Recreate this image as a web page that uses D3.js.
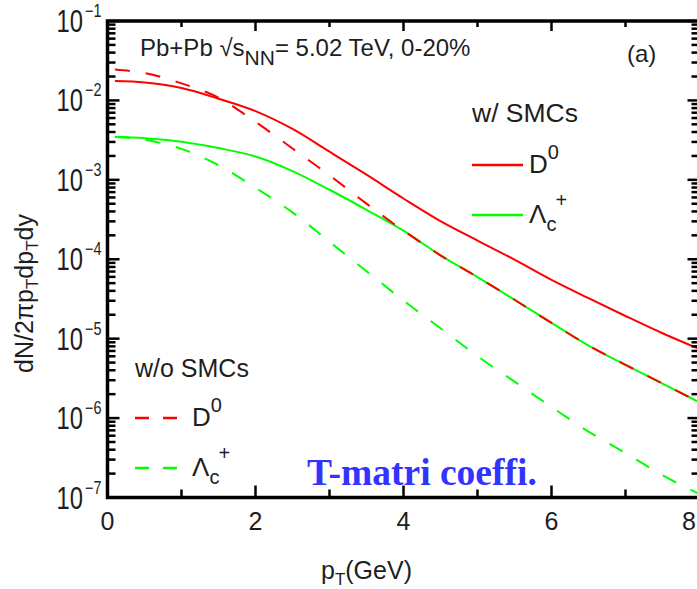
<!DOCTYPE html>
<html><head><meta charset="utf-8">
<script src="https://cdn.jsdelivr.net/npm/d3@7"></script>
<style>
html,body{margin:0;padding:0;background:#fff;}
svg{display:block;}
text{font-family:"Liberation Sans",Arial,sans-serif;fill:#1e1e1e;}
</style></head>
<body>
<svg id="chart" width="697" height="589"></svg>
<script>
// ---- data ----
const pT = [0.1, 0.5, 1.0, 1.5, 2.0, 2.5, 3.0, 3.5, 4.0, 4.5, 5.0, 5.5, 6.0, 6.5, 7.0, 7.5, 8.0];
const D0_withSMC = [1.75e-2, 1.68e-2, 1.43e-2, 1.05e-2, 7.33e-3, 4.37e-3, 2.26e-3, 1.16e-3, 5.82e-4, 3.02e-4, 1.72e-4, 9.89e-5, 5.50e-5, 3.24e-5, 1.93e-5, 1.17e-5, 7.4e-6];
const Lc_withSMC = [3.48e-3, 3.35e-3, 3.02e-3, 2.51e-3, 1.97e-3, 1.29e-3, 7.5e-4, 4.2e-4, 2.29e-4, 1.12e-4, 5.96e-5, 3.09e-5, 1.58e-5, 8.2e-6, 4.68e-6, 2.72e-6, 1.58e-6];
const D0_noSMC = [2.45e-2, 2.21e-2, 1.64e-2, 1.08e-2, 5.37e-3, 2.48e-3, 1.14e-3, 5.01e-4, 2.29e-4, 1.12e-4, 5.96e-5, 3.09e-5, 1.58e-5, 8.2e-6, 4.68e-6, 2.72e-6, 1.58e-6];
const Lc_noSMC = [3.47e-3, 3.20e-3, 2.45e-3, 1.53e-3, 7.94e-4, 3.89e-4, 1.66e-4, 7.08e-5, 3.02e-5, 1.35e-5, 6.03e-6, 2.88e-6, 1.38e-6, 6.76e-7, 3.63e-7, 1.91e-7, 1.10e-7];
const xTickLabels = ["0", "2", "4", "6", "8"];
const yDecades = [-7, -6, -5, -4, -3, -2, -1];

// ---- layout ----
const svg = d3.select("#chart");
const x = d3.scaleLinear().domain([0, 8]).range([107.5, 699.5]);
const y = d3.scaleLog().domain([1e-7, 1e-1]).range([497.5, 21]);
const X0 = x(0), X1 = x(8), Y0 = y(1e-7), Y1 = y(1e-1);

// ---- curves ----
const line = d3.line().x(d => x(d[0])).y(d => y(d[1])).curve(d3.curveMonotoneX);
const series = [
  {v: D0_withSMC, c: "#ff0000", dash: null},
  {v: Lc_withSMC, c: "#00ff00", dash: null},
  {v: Lc_noSMC, c: "#00ff00", dash: "15,16"},
  {v: D0_noSMC, c: "#ff0000", dash: "15,16"}
];
const gc = svg.append("g");
series.forEach(s => {
  gc.append("path").datum(pT.map((p, i) => [p, s.v[i]]))
    .attr("d", line).attr("fill", "none").attr("stroke", s.c)
    .attr("stroke-width", 2).attr("stroke-dasharray", s.dash);
});

// ---- axes (inward ticks) ----
const ga = svg.append("g").attr("stroke", "#000");
const majorX = d3.range(0, 9, 2), minorX = d3.range(1, 8, 2);
function vtick(px, len, top) {
  ga.append("line").attr("x1", px).attr("x2", px)
    .attr("y1", top ? Y1 : Y0).attr("y2", top ? Y1 + len : Y0 - len).attr("stroke-width", 2.5);
}
majorX.forEach(v => { vtick(x(v), 12, false); vtick(x(v), 10, true); });
minorX.forEach(v => { vtick(x(v), 8, false); vtick(x(v), 6, true); });
function htick(py, len) {
  ga.append("line").attr("x1", X0).attr("x2", X0 + len).attr("y1", py).attr("y2", py).attr("stroke-width", 2.5);
  ga.append("line").attr("x1", X1).attr("x2", X1 - len).attr("y1", py).attr("y2", py).attr("stroke-width", 2.5);
}
yDecades.forEach(d => {
  htick(y(Math.pow(10, d)), 12);
  if (d < -1) for (let m = 2; m <= 9; m++) htick(y(m * Math.pow(10, d)), 8);
});
ga.append("rect").attr("x", X0).attr("y", Y1).attr("width", X1 - X0).attr("height", Y0 - Y1)
  .attr("fill", "none").attr("stroke-width", 3.5);

// ---- tick labels ----
majorX.forEach((v, i) => {
  const last = i === majorX.length - 1;
  svg.append("text").attr("x", last ? 696 : x(v)).attr("y", 530)
    .attr("text-anchor", last ? "end" : "middle")
    .attr("font-size", 25).text(xTickLabels[i]);
});
yDecades.forEach(d => {
  const py = y(Math.pow(10, d));
  svg.append("text").attr("transform", `translate(83,${py + 11}) scale(0.82,1.05)`)
    .attr("text-anchor", "end").attr("font-size", 29).text("10");
  svg.append("text").attr("transform", `translate(85,${py - 4}) scale(0.8,1)`)
    .attr("font-size", 18).text(String(d).replace("-", "\u2212"));
});

// ---- axis titles ----
const xt = svg.append("text").attr("x", 321).attr("y", 579).attr("font-size", 25);
xt.append("tspan").text("p");
xt.append("tspan").attr("dy", 6).attr("font-size", 17).text("T");
xt.append("tspan").attr("dy", -6).text("(GeV)");

const yt = svg.append("text").attr("transform", "translate(33,373) rotate(-90)").attr("font-size", 25);
yt.append("tspan").text("dN/2\u03c0p");
yt.append("tspan").attr("dy", 5).attr("font-size", 17).text("T");
yt.append("tspan").attr("dy", -5).text("dp");
yt.append("tspan").attr("dy", 5).attr("font-size", 17).text("T");
yt.append("tspan").attr("dy", -5).text("dy");

// ---- annotations ----
const tt = svg.append("text").attr("x", 140).attr("y", 56).attr("font-size", 24);
tt.append("tspan").text("Pb+Pb \u221As");
tt.append("tspan").attr("dy", 9).attr("font-size", 21).text("NN");
tt.append("tspan").attr("dy", -9).text("= 5.02 TeV, 0-20%");
svg.append("text").attr("x", 627).attr("y", 62).attr("font-size", 24).text("(a)");

svg.append("text").attr("x", 472).attr("y", 122).attr("font-size", 26.5).text("w/ SMCs");
svg.append("text").attr("x", 135).attr("y", 377).attr("font-size", 25).text("w/o SMCs");

// legend entries
const legend = [
  {x1: 472, x2: 523, y: 165, c: "#ff0000", dash: null, tx: 529, name: "D", sup: "0", sub: null},
  {x1: 472, x2: 523, y: 215, c: "#00ff00", dash: null, tx: 529, name: "\u039b", sup: "+", sub: "c"},
  {x1: 135, x2: 178, y: 418, c: "#ff0000", dash: "14,14", tx: 192, name: "D", sup: "0", sub: null},
  {x1: 135, x2: 178, y: 468, c: "#00ff00", dash: "14,14", tx: 192, name: "\u039b", sup: "+", sub: "c"}
];
legend.forEach(l => {
  svg.append("line").attr("x1", l.x1).attr("x2", l.x2).attr("y1", l.y).attr("y2", l.y)
    .attr("stroke", l.c).attr("stroke-width", 2.5).attr("stroke-dasharray", l.dash);
  const t = svg.append("text").attr("x", l.tx).attr("y", l.y + 8).attr("font-size", 26);
  t.append("tspan").text(l.name);
  if (l.sub) {
    t.append("tspan").attr("dy", 8).attr("font-size", 20).text(l.sub);
    t.append("tspan").attr("dy", -24).attr("dx", -1).attr("font-size", 20).text(l.sup);
  } else {
    t.append("tspan").attr("dy", -14).attr("font-size", 20).text(l.sup);
  }
});

svg.append("text").attr("x", 307).attr("y", 485)
  .style("font-family", "'Liberation Serif','Times New Roman',serif")
  .style("font-weight", "bold").style("fill", "#3333ff")
  .attr("font-size", 37.5).text("T-matri coeffi.");
</script>
</body></html>
